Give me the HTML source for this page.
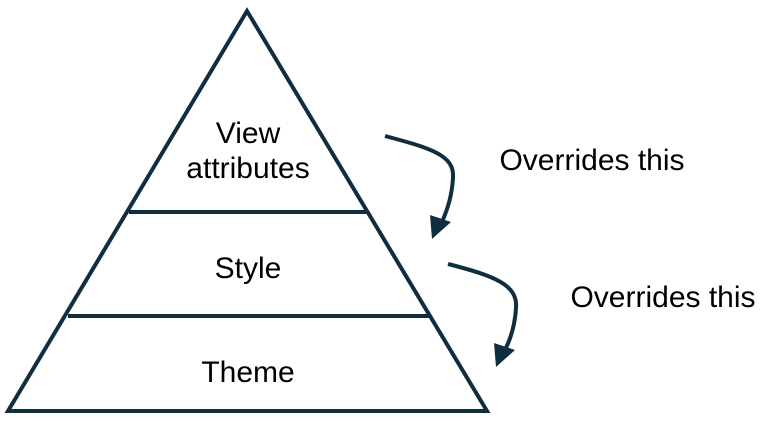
<!DOCTYPE html>
<html><head><style>body{margin:0;background:#fff}</style></head><body>
<svg width="774" height="421" viewBox="0 0 774 421" xmlns="http://www.w3.org/2000/svg" style="display:block">
<g fill="none" stroke="#102e40" stroke-width="4" stroke-linejoin="miter">
<polygon points="247,11 8,411 487,411"/>
<line x1="129" y1="212" x2="367" y2="212"/>
<line x1="68" y1="316" x2="429" y2="316"/>
<path d="M385,136 C430,148 455,155 453,178 C452,195 448,208 442,222" />
<path d="M448,264 C495,276 518,285 516,308 C515,325 511,338 505,350" />
</g>
<g fill="#102e40">
<polygon points="432,239 430,215 451,222"/>
<polygon points="496,367 494,343 515,350"/>
</g>
<g font-family="Liberation Sans, sans-serif" font-size="30" fill="#000" text-anchor="middle">
<text x="248" y="143">View</text>
<text x="248" y="178">attributes</text>
<text x="248" y="278">Style</text>
<text x="248" y="382">Theme</text>
<text x="592" y="170">Overrides this</text>
<text x="663" y="307">Overrides this</text>
</g>
</svg>
</body></html>
